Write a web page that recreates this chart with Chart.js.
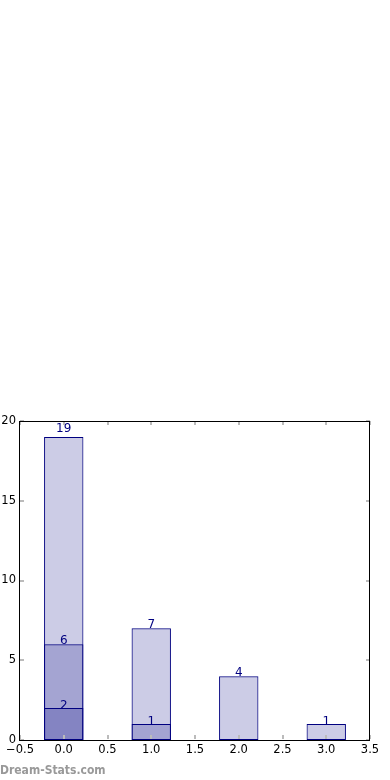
<!DOCTYPE html>
<html>
<head>
<meta charset="utf-8">
<script src="https://cdn.jsdelivr.net/npm/chart.js@4/dist/chart.umd.min.js"></script>
<style>
  body { margin: 0; background: #fff; }
  #wrap { position: relative; width: 390px; height: 780px; }
  #mark {
    position: absolute; left: 0; top: 763px;
    font: bold 12px "DejaVu Sans Condensed", "DejaVu Sans", sans-serif; color: #999;
  }
</style>
</head>
<body>
<div id="wrap">
  <canvas id="barChart"></canvas>
  <div id="mark">Dream-Stats.com</div>
</div>
<script>
// bar positions on the x axis and the three overlapping series
const positions = [0, 1, 2, 3];
const totals = [19, 7, 4, 1];
const middle = [6, 1, null, null];
const lowest = [2, null, null, null];

const xTicks = [-0.5, 0, 0.5, 1, 1.5, 2, 2.5, 3, 3.5];
const yTicks = [0, 5, 10, 15, 20];

const NAVY = '#000080';
const FILL = 'rgba(0, 0, 128, 0.2)';

const toPoints = (vals) => positions.map((x, i) => ({ x: x, y: vals[i] }));

// bar width: the ruler is the 0.5 tick spacing, so 0.9 gives bars 0.45 wide
const makeSet = (label, vals) => ({
  label: label,
  data: toPoints(vals),
  backgroundColor: FILL,
  borderColor: NAVY,
  borderWidth: 1,
  borderSkipped: false,
  grouped: false,
  barPercentage: 0.9,
  categoryPercentage: 1,
});

// value labels above each bar
const valueLabels = {
  id: 'valueLabels',
  afterDatasetsDraw(chart) {
    const ctx = chart.ctx;
    const yScale = chart.scales.y;
    ctx.save();
    ctx.fillStyle = NAVY;
    ctx.font = '12px "DejaVu Sans"';
    ctx.textAlign = 'center';
    ctx.textBaseline = 'alphabetic';
    chart.data.datasets.forEach((ds, di) => {
      const meta = chart.getDatasetMeta(di);
      meta.data.forEach((bar, i) => {
        const v = ds.data[i].y;
        if (v === null) return;
        ctx.fillText(String(v), bar.x, yScale.getPixelForValue(v * 1.02) + 1.5);
      });
    });
    ctx.restore();
  }
};

// frame plus inward tick marks like the original plot
const frameTicks = {
  id: 'frameTicks',
  afterDraw(chart) {
    const ctx = chart.ctx;
    const a = chart.chartArea;
    const xs = chart.scales.x, ys = chart.scales.y;
    ctx.save();
    ctx.strokeStyle = '#bbb';
    ctx.lineWidth = 2;
    ctx.beginPath();
    xTicks.forEach(t => {
      const px = Math.round(xs.getPixelForValue(t));
      ctx.moveTo(px, a.bottom - 1); ctx.lineTo(px, a.bottom - 5);
      ctx.moveTo(px, a.top); ctx.lineTo(px, a.top + 4);
    });
    yTicks.forEach(t => {
      const py = Math.round(ys.getPixelForValue(t));
      ctx.moveTo(a.left, py); ctx.lineTo(a.left + 4, py);
      ctx.moveTo(a.right, py); ctx.lineTo(a.right - 4, py);
    });
    ctx.stroke();
    ctx.strokeStyle = '#000';
    ctx.lineWidth = 1;
    ctx.strokeRect(a.left - 0.5, a.top + 0.5, a.right - a.left, a.bottom - a.top);
    ctx.restore();
  }
};

new Chart(document.getElementById('barChart'), {
  type: 'bar',
  data: {
    datasets: [
      makeSet('all', totals),
      makeSet('mid', middle),
      makeSet('low', lowest),
    ],
  },
  options: {
    responsive: true,
    maintainAspectRatio: false,
    animation: false,
    layout: { padding: { top: 421, right: 20, left: 0, bottom: 0 } },
    scales: {
      x: {
        type: 'linear',
        offset: false,
        min: -0.5,
        max: 3.5,
        grid: { display: false, drawTicks: false },
        border: { display: false },
        afterBuildTicks: (scale) => { scale.ticks = xTicks.map(v => ({ value: v })); },
        afterFit: (scale) => { scale.height = 40; },
        ticks: {
          color: '#000',
          padding: 3,
          font: { family: 'DejaVu Sans', size: 11.5 },
          maxRotation: 0,
          autoSkip: false,
          callback: (v) => Number(v).toFixed(1).replace('-', '\u2212'),
        },
      },
      y: {
        min: 0,
        max: 20,
        grid: { display: false, drawTicks: false },
        border: { display: false },
        afterBuildTicks: (scale) => { scale.ticks = yTicks.map(v => ({ value: v })); },
        afterFit: (scale) => { scale.width = 20; },
        ticks: {
          color: '#000',
          padding: 4,
          font: { family: 'DejaVu Sans', size: 11.5 },
        },
      },
    },
    plugins: {
      legend: { display: false },
      tooltip: { enabled: false },
    },
  },
  plugins: [valueLabels, frameTicks],
});
</script>
</body>
</html>
